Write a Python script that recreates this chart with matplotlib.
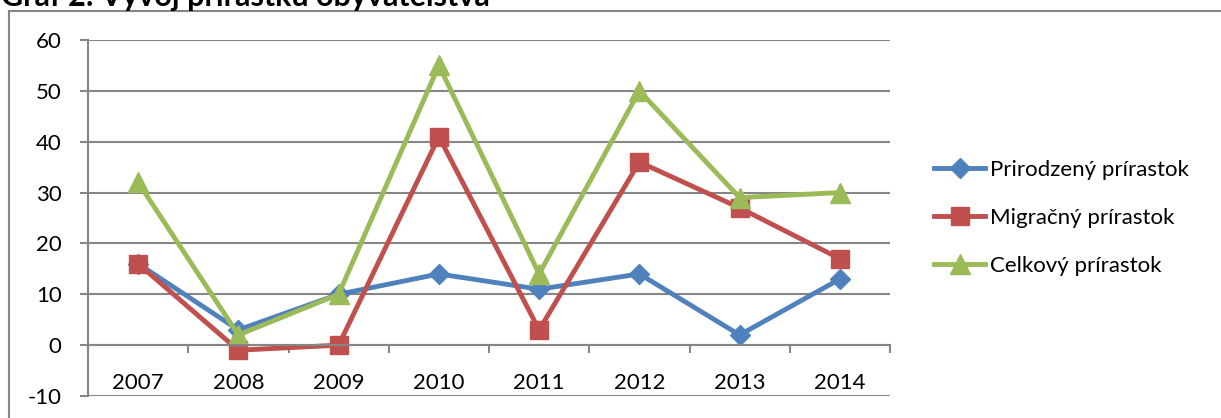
import numpy as np
import matplotlib
matplotlib.use("Agg")
import matplotlib.pyplot as plt
from matplotlib.patches import Rectangle

plt.rcParams['font.family'] = ['Lato', 'DejaVu Sans']
plt.rcParams['axes.unicode_minus'] = False

# data
years = ['2007', '2008', '2009', '2010', '2011', '2012', '2013', '2014']
prirodzeny = [16, 3, 10, 14, 11, 14, 2, 13]
migracny = [16, -1, 0, 41, 3, 36, 27, 17]
celkovy = [32, 2, 10, 55, 14, 50, 29, 30]

title = 'Graf 2: Vývoj prírastku obyvateľstva'
labels = ['Prirodzený prírastok', 'Migračný prírastok', 'Celkový prírastok']

W, H = 1221, 418
grey = '#868686'
fs = 16

fig = plt.figure(figsize=(W / 100, H / 100), dpi=100)

# outer chart frame (cut off on right and bottom like the original)
fig.patches.append(Rectangle((9 / W, -0.1), 1.2, 1 - 11 / H + 0.1,
                             transform=fig.transFigure, fill=False,
                             ec=grey, lw=1.5))
fig.text(1 / W, 1 - 6 / H, title, fontsize=22, fontweight='bold',
         va='baseline', ha='left')

ax = fig.add_axes([88 / W, 1 - 396 / H, (890 - 88) / W, (396 - 40) / H])
x = np.arange(len(years))

ax.plot(x, prirodzeny, color='#4F81BD', lw=3.5, marker='D', ms=10, label=labels[0])
ax.plot(x, migracny, color='#C0504D', lw=3.5, marker='s', ms=13, label=labels[1])
ax.plot(x, celkovy, color='#9BBB59', lw=3.5, marker='^', ms=14, label=labels[2])

ax.set_xlim(-0.5, len(years) - 0.5)
ax.set_ylim(-10, 60)
ax.set_yticks(range(-10, 61, 10))
ax.grid(axis='y', color=grey, lw=1.5)
ax.set_axisbelow(True)

for s in ['top', 'right']:
    ax.spines[s].set_visible(False)
ax.spines['left'].set_color(grey)
ax.spines['left'].set_linewidth(1.5)
ax.spines['bottom'].set_position(('data', 0))
ax.spines['bottom'].set_color(grey)
ax.spines['bottom'].set_linewidth(1.5)

# category boundaries as major ticks, year labels on minor ticks
ax.set_xticks(np.arange(-0.5, len(years), 1.0))
ax.set_xticklabels([])
ax.set_xticks(x, minor=True)
ax.set_xticklabels(years, minor=True)
ax.tick_params(axis='x', which='major', direction='out', length=6, width=1.5, color=grey)
ax.tick_params(axis='x', which='minor', length=0, pad=20, labelsize=fs)
ax.tick_params(axis='y', direction='out', length=6, width=1.5, color=grey,
               pad=13, labelsize=fs)

fig.legend(loc='center left', bbox_to_anchor=(914 / W, 1 - 218 / H),
           frameon=False, fontsize=fs, handlelength=2.3, handletextpad=0.2,
           labelspacing=1.25)

fig.savefig('out.png', dpi=100)
